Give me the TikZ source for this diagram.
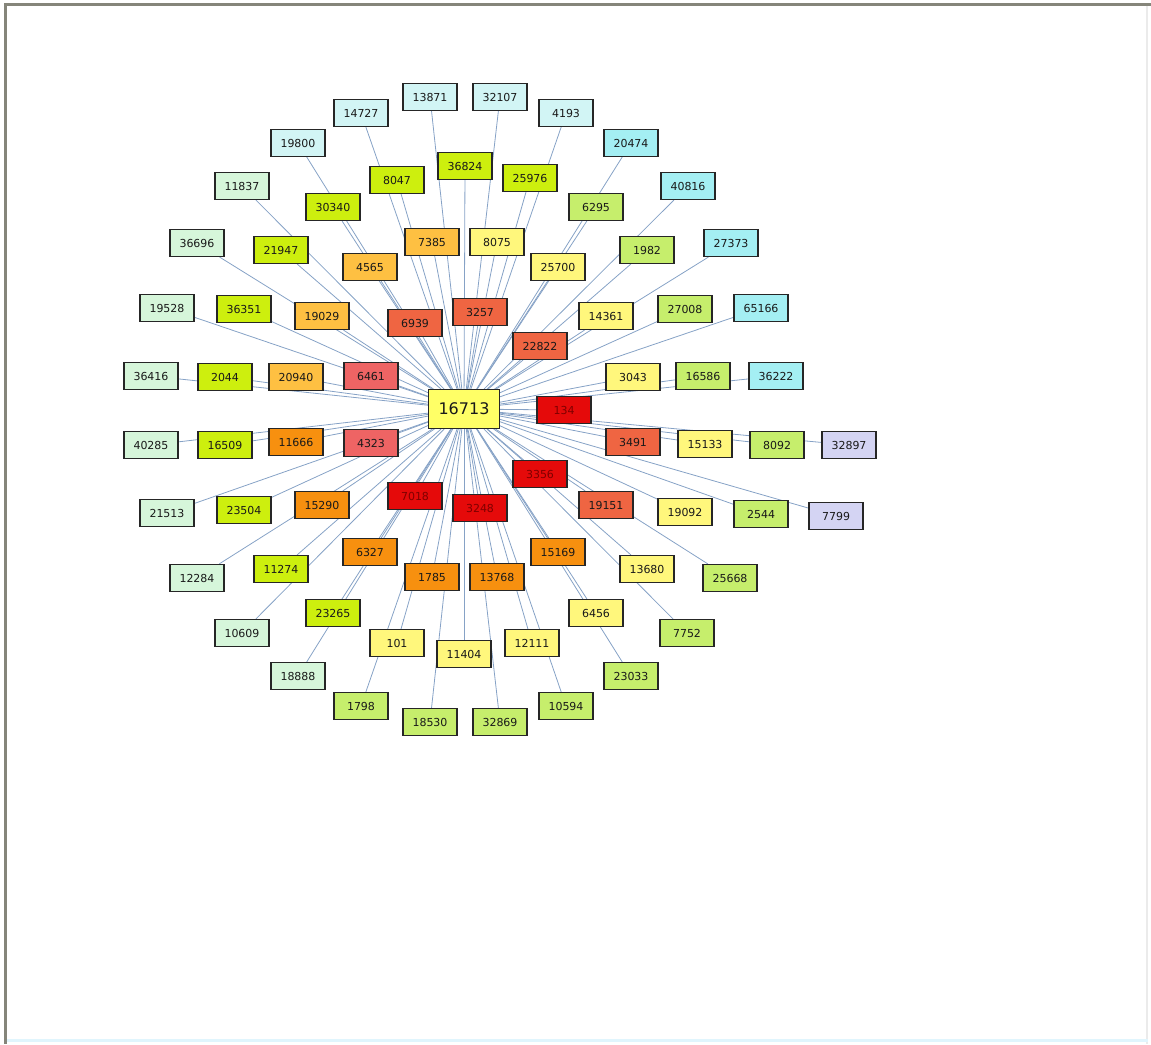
\documentclass[tikz,border=0pt]{standalone}
\usepackage{fontspec}
\setmainfont{DejaVu Sans}
\pgfdeclarelayer{bg}
\pgfsetlayers{bg,main}
\definecolor{cmint}{HTML}{D6F6DA}
\definecolor{cpale}{HTML}{D2F5F5}
\definecolor{ccyan}{HTML}{A4EFF3}
\definecolor{clav}{HTML}{D4D4F3}
\definecolor{cchart}{HTML}{CDEF0E}
\definecolor{clgreen}{HTML}{C6EE6C}
\definecolor{cyel}{HTML}{FFF77C}
\definecolor{cgold}{HTML}{FEC042}
\definecolor{corange}{HTML}{F7900F}
\definecolor{csalmon}{HTML}{EE6464}
\definecolor{cored}{HTML}{EF6542}
\definecolor{cred}{HTML}{E50A0A}
\definecolor{ccenter}{HTML}{FFFF66}
\definecolor{cedge}{HTML}{86A2C6}
\definecolor{cframe}{HTML}{85857A}
\tikzset{
  nb/.style={draw=black!85, line width=1.1pt, minimum width=54pt, minimum height=27pt, inner sep=0pt,
    font=\fontsize{11}{11}\selectfont, text=black!90},
  hub/.style={nb, minimum width=71pt, minimum height=39pt, font=\fontsize{16}{16}\selectfont},
  dk/.style={text=red!50!black},
  conn/.style={draw=cedge, line width=0.8pt}
}
\begin{document}
\begin{tikzpicture}[x=1pt,y=-1pt]
\useasboundingbox (0,0) rectangle (1151,1044);
\fill[cframe] (4,3) rectangle (1151,6);
\fill[cframe] (4,3) rectangle (7,1044);
\fill[black!8] (1146,6) rectangle (1148,1044);
\fill[cyan!12] (7,1039) rectangle (1148,1042);
\node[hub, fill=ccenter] (c) at (464,409) {16713};
\foreach \n/\x/\y/\c in {
 13871/430/97/cpale, 32107/500/97/cpale, 4193/566/113/cpale, 14727/361/113/cpale, 19800/298/143/cpale,
 20474/631/143/ccyan, 40816/688/186/ccyan, 27373/731/243/ccyan, 65166/761/308/ccyan, 36222/776/376/ccyan,
 11837/242/186/cmint, 36696/197/243/cmint, 19528/167/308/cmint, 36416/151/376/cmint, 40285/151/445/cmint,
 21513/167/513/cmint, 12284/197/578/cmint, 10609/242/633/cmint, 18888/298/676/cmint,
 32897/849/445/clav, 7799/836/516/clav,
 25668/730/578/clgreen, 7752/687/633/clgreen, 23033/631/676/clgreen, 1798/361/706/clgreen,
 10594/566/706/clgreen, 18530/430/722/clgreen, 32869/500/722/clgreen,
 6295/596/207/clgreen, 1982/647/250/clgreen, 27008/685/309/clgreen, 16586/703/376/clgreen,
 8092/777/445/clgreen, 2544/761/514/clgreen,
 8047/397/180/cchart, 36824/465/166/cchart, 25976/530/178/cchart, 30340/333/207/cchart,
 21947/281/250/cchart, 36351/244/309/cchart, 2044/225/377/cchart, 16509/225/445/cchart,
 23504/244/510/cchart, 11274/281/569/cchart, 23265/333/613/cchart,
 101/397/643/cyel, 11404/464/654/cyel, 12111/532/643/cyel, 6456/596/613/cyel, 13680/647/569/cyel,
 19092/685/512/cyel, 15133/705/444/cyel, 3043/633/377/cyel, 14361/606/316/cyel, 25700/558/267/cyel,
 8075/497/242/cyel,
 7385/432/242/cgold, 4565/370/267/cgold, 19029/322/316/cgold, 20940/296/377/cgold,
 11666/296/442/corange, 15290/322/505/corange, 6327/370/552/corange, 1785/432/577/corange,
 13768/497/577/corange, 15169/558/552/corange,
 6461/371/376/csalmon, 4323/371/443/csalmon,
 3257/480/312/cored, 6939/415/323/cored, 22822/540/346/cored, 3491/633/442/cored, 19151/606/505/cored}
 { \node[nb, fill=\c] (n\n) at (\x,\y) {\n}; }
\foreach \n/\x/\y in {134/564/410, 3356/540/474, 7018/415/496, 3248/480/508}
 { \node[nb, fill=cred, dk] (n\n) at (\x,\y) {\n}; }
\begin{pgfonlayer}{bg}
\foreach \n in {13871,32107,4193,14727,19800,20474,40816,27373,65166,36222,11837,36696,19528,36416,40285,
 21513,12284,10609,18888,32897,7799,25668,7752,23033,1798,10594,18530,32869,6295,1982,27008,16586,8092,2544,
 8047,36824,25976,30340,21947,36351,2044,16509,23504,11274,23265,101,11404,12111,6456,13680,19092,15133,3043,
 14361,25700,8075,7385,4565,19029,20940,11666,15290,6327,1785,13768,15169,6461,4323,3257,6939,22822,3491,19151,
 134,3356,7018,3248}
 { \draw[conn] (c) -- (n\n); }
\end{pgfonlayer}
\end{tikzpicture}
\end{document}
